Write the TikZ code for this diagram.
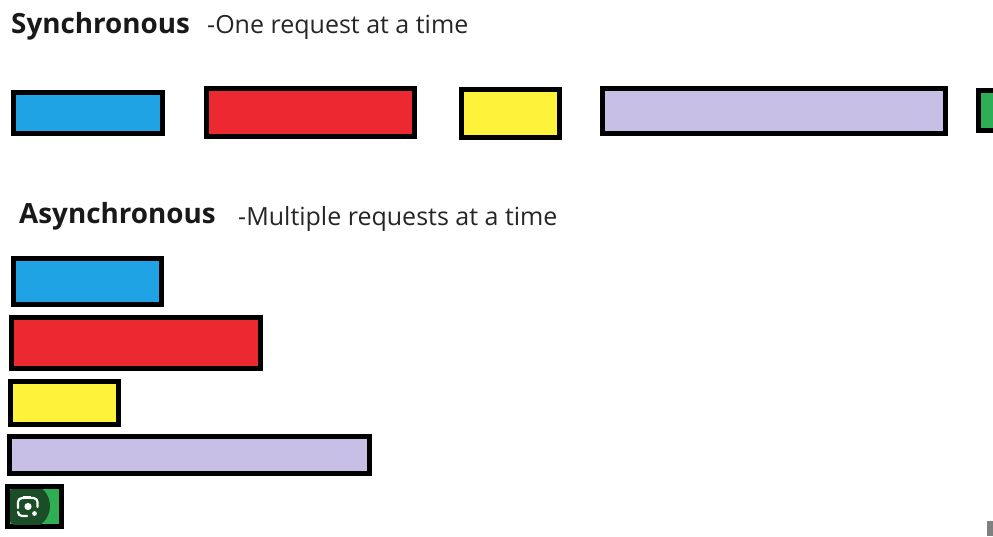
\documentclass[tikz,border=0pt]{standalone}
\usepackage{fontspec}
\setmainfont{Open Sans}
\definecolor{cblue}{HTML}{1FA3E4}
\definecolor{cred}{HTML}{EC2830}
\definecolor{cyellow}{HTML}{FFF23A}
\definecolor{clav}{HTML}{C8BFE6}
\definecolor{cgreen}{HTML}{2FAF55}
\definecolor{cdark}{HTML}{1B4D27}
\tikzset{
  bar/.style={draw=black,line width=5pt,inner sep=0pt},
  head/.style={anchor=base west,inner sep=0pt,font=\fontsize{27.8}{32}\selectfont\bfseries,text=black!90},
  sub/.style={anchor=base west,inner sep=0pt,font=\fontsize{25}{30}\selectfont,text=black!85},
  lens/.style={draw=white,line width=2.2pt,line cap=round,rounded corners=4pt}
}
\newcommand{\barbox}[6]{\node[bar,fill=#6,anchor=north west,minimum width=#4pt-#2pt-5pt,minimum height=#5pt-#3pt-5pt] (#1) at (#2,#3) {};}
\begin{document}
\begin{tikzpicture}[x=1pt,y=-1pt]
\useasboundingbox (0,0) rectangle (993,536);
\clip (0,0) rectangle (993,536);
\fill[white] (0,0) rectangle (993,536);
\node[head] (t1) at (11,33) {Synchronous};
\node[sub] (s1) at (207,33) {-One request at a time};
\node[head] (t2) at (19,223) {Asynchronous};
\node[sub] (s2) at (238,225) {-Multiple requests at a time};
\barbox{a}{11}{90}{165}{136}{cblue}
\barbox{b}{204}{86}{417}{139}{cred}
\barbox{c}{459}{87}{562}{140}{cyellow}
\barbox{d}{600}{86}{948}{136}{clav}
\barbox{e}{976}{88}{1040}{133}{cgreen}
\barbox{f}{11}{256}{164}{307}{cblue}
\barbox{g}{9}{315}{263}{371}{cred}
\barbox{h}{8}{379}{121}{427}{cyellow}
\barbox{i}{7}{434}{372}{476}{clav}
\barbox{j}{5}{484}{64}{529}{cgreen}
% lens badge
\begin{scope}
\clip (10,489) rectangle (59,524);
\fill[cdark] (27,506) circle (23);
\end{scope}
\draw[lens] (18,508) -- (18,498) -- (24,498);
\draw[lens] (31,498) -- (37.5,498) -- (37.5,507);
\draw[lens] (18,512) -- (18,516) -- (27,516);
\fill[white] (23,495.5) rectangle (31,498.5);
\fill[white] (28,506.5) circle (3.6);
\fill[white] (34.5,513.5) circle (2.4);
\fill[black!50] (987,521) rectangle (993,536);
\end{tikzpicture}
\end{document}
